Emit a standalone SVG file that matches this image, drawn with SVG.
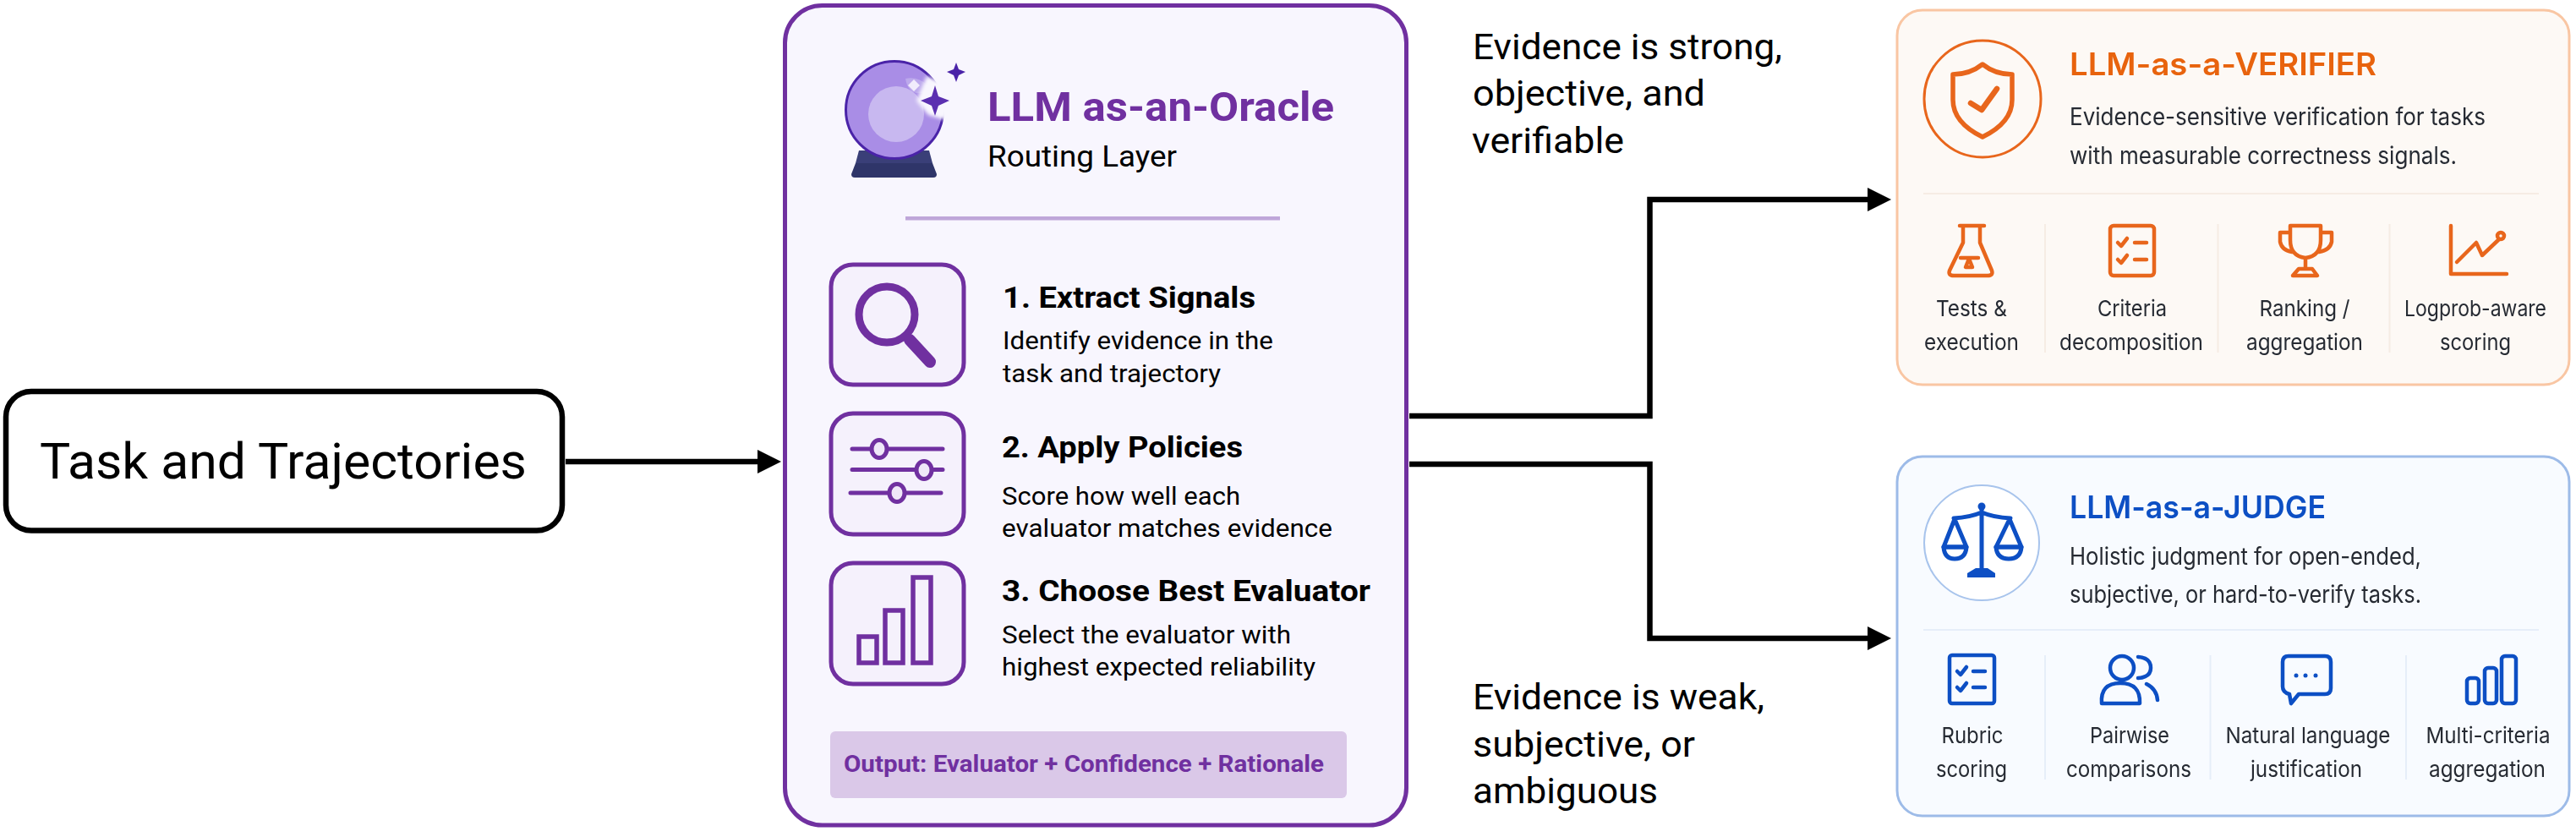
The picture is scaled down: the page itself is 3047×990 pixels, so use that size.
<svg xmlns="http://www.w3.org/2000/svg" width="3047" height="990" viewBox="0 0 3047 990">
<style>
text{font-family:"Inter","Liberation Sans",sans-serif;fill:#000}
.tk,.h1,.sub,.st,.sd,.out,.cond{font-family:"Roboto","Liberation Sans",sans-serif}
.tk{font-size:59px}
.cond{font-size:42px}
.h1{font-size:48px;font-weight:700;fill:#7030a0}
.sub{font-size:35px}
.st{font-size:35px;font-weight:700}
.sd{font-size:30px}
.out{font-size:27px;font-weight:700;fill:#7030a0}
.vt{font-size:37px;font-weight:600;fill:#e8640f}
.jt{font-size:37px;font-weight:600;fill:#0b4fc4}
.pd{font-size:28px;fill:#262b33}
.lb{font-size:26px;fill:#262b33;text-anchor:middle}
.pk{fill:#f5f1fc;stroke:#7030a0;stroke-width:5}
.pi{fill:none;stroke:#7030a0;stroke-linecap:round}
.knob{fill:#efe8f8;stroke:#7030a0;stroke-width:5}
.bar{fill:#f5f1fc;stroke:#7030a0;stroke-width:5.500}
.oi{fill:none;stroke:#e8661c;stroke-width:4.500;stroke-linecap:round;stroke-linejoin:round}
.bi{fill:none;stroke:#0b4fc4;stroke-width:4.500;stroke-linecap:round;stroke-linejoin:round}
.conn{fill:none;stroke:#000;stroke-width:6.500;stroke-linejoin:miter}
.os{stroke:#f6ece4;stroke-width:2}
.bs{stroke:#e6eef9;stroke-width:2}
</style>
<defs>
<marker id="arrow" markerUnits="userSpaceOnUse" markerWidth="30" markerHeight="30" refX="1" refY="14" orient="auto"><polygon points="0,0 28,14 0,28" fill="#000"/></marker>
<filter id="soft" x="-2%" y="-2%" width="104%" height="104%"><feGaussianBlur stdDeviation="0.600"/></filter>
<filter id="halo" x="-30%" y="-30%" width="160%" height="160%"><feGaussianBlur stdDeviation="2"/></filter>
</defs>

<g id="connectors">
<path class="conn" d="M669 546H897" marker-end="url(#arrow)"/>
<path class="conn" d="M1667 492H1951.500V236H2210" marker-end="url(#arrow)"/>
<path class="conn" d="M1667 549H1951.500V755H2210" marker-end="url(#arrow)"/>
</g>

<g id="node-task">
<rect x="7" y="463" width="658" height="164.500" rx="30" fill="#fff" stroke="#000" stroke-width="6.500"/>
<text class="tk" x="47" y="566" textLength="576" lengthAdjust="spacingAndGlyphs">Task and Trajectories</text>
</g>

<g id="node-oracle">
<rect x="928.500" y="6.500" width="735" height="969.500" rx="44" fill="#f8f6fe" stroke="#7030a0" stroke-width="5"/>
<g id="oracle-crystal-ball">
<path d="M1016 178H1099L1103 193H1012Z" fill="#3a3f78"/>
<path d="M1012 193H1103L1108 206Q1108 210 1104 210H1011Q1007 210 1007 206Z" fill="#2f3569"/>
<circle cx="1058" cy="130" r="57.500" fill="#a98de6" stroke="#4a23a8" stroke-width="3"/>
<circle cx="1060" cy="135" r="33" fill="#c8b8f0"/>
<path d="M1071 93Q1085 90 1096 100Q1104 110 1090 110Q1074 112 1071 93Z" fill="#bca9ec"/>
<path d="M1081 94L1088 101L1081 108L1074 101Z" fill="#f1ecfc"/>
<polygon points="1096,90 1114,97 1127,119 1118,142 1098,136 1084,119" fill="#f8f6fe" filter="url(#halo)"/>
<polygon points="1106,101 1110,114 1123,119 1110,125 1106,137 1102,125 1089,119 1102,114" fill="#5b2fb0"/>
<polygon points="1131,74 1134,82 1142,85 1134,89 1131,97 1128,89 1120,85 1128,82" fill="#4a23a8"/>
</g>
<text class="h1" x="1168" y="143" textLength="410" lengthAdjust="spacingAndGlyphs">LLM as-an-Oracle</text>
<text class="sub" x="1168" y="197" textLength="224" lengthAdjust="spacingAndGlyphs">Routing Layer</text>
<rect x="1071" y="256" width="443" height="4.500" fill="#bfa6d9"/>

<rect class="pk" x="983" y="313" width="157" height="142" rx="26"/>
<circle class="pi" cx="1049" cy="372" r="33" stroke-width="9"/>
<path class="pi" d="M1076 402L1100 428" stroke-width="14"/>
<text class="st" x="1186" y="364" textLength="299" lengthAdjust="spacingAndGlyphs">1. Extract Signals</text>
<text class="sd" x="1186" y="413" textLength="320" lengthAdjust="spacingAndGlyphs">Identify evidence in the</text>
<text class="sd" x="1186" y="452" textLength="258" lengthAdjust="spacingAndGlyphs">task and trajectory</text>

<rect class="pk" x="983" y="489" width="157" height="143" rx="26"/>
<path class="pi" d="M1008 531H1115M1008 555.500H1115M1006 583H1113" stroke-width="5" stroke-linecap="butt"/>
<ellipse class="knob" cx="1040" cy="531" rx="9" ry="10.500"/>
<ellipse class="knob" cx="1093" cy="556" rx="9" ry="10.500"/>
<ellipse class="knob" cx="1061" cy="583" rx="9" ry="10.500"/>
<text class="st" x="1185" y="541" textLength="285" lengthAdjust="spacingAndGlyphs">2. Apply Policies</text>
<text class="sd" x="1185" y="597" textLength="282" lengthAdjust="spacingAndGlyphs">Score how well each</text>
<text class="sd" x="1185" y="635" textLength="391" lengthAdjust="spacingAndGlyphs">evaluator matches evidence</text>

<rect class="pk" x="983" y="666" width="157" height="143" rx="26"/>
<rect class="bar" x="1016" y="753" width="21" height="31"/>
<rect class="bar" x="1047" y="722" width="21" height="62"/>
<rect class="bar" x="1080" y="683" width="21" height="101"/>
<text class="st" x="1185" y="711" textLength="436" lengthAdjust="spacingAndGlyphs">3. Choose Best Evaluator</text>
<text class="sd" x="1185" y="761" textLength="342" lengthAdjust="spacingAndGlyphs">Select the evaluator with</text>
<text class="sd" x="1185" y="799" textLength="371" lengthAdjust="spacingAndGlyphs">highest expected reliability</text>

<rect x="982" y="865" width="611" height="79" rx="6" fill="#dac8e8"/>
<text class="out" x="998" y="913" textLength="568" lengthAdjust="spacingAndGlyphs">Output: Evaluator + Confidence + Rationale</text>
</g>

<g id="label-strong">
<text class="cond" x="1742" y="70" textLength="366" lengthAdjust="spacingAndGlyphs">Evidence is strong,</text>
<text class="cond" x="1742" y="125" textLength="275" lengthAdjust="spacingAndGlyphs">objective, and</text>
<text class="cond" x="1741" y="181" textLength="180" lengthAdjust="spacingAndGlyphs">verifiable</text>
</g>
<g id="label-weak">
<text class="cond" x="1742" y="839" textLength="345" lengthAdjust="spacingAndGlyphs">Evidence is weak,</text>
<text class="cond" x="1742" y="895" textLength="263" lengthAdjust="spacingAndGlyphs">subjective, or</text>
<text class="cond" x="1742" y="950" textLength="219" lengthAdjust="spacingAndGlyphs">ambiguous</text>
</g>

<g id="node-verifier" filter="url(#soft)">
<rect x="2244" y="12" width="795" height="443" rx="30" fill="#fdf9f5" stroke="#f9c6a3" stroke-width="3"/>
<circle cx="2345" cy="117" r="69" fill="none" stroke="#e8661c" stroke-width="3"/>
<path class="oi" d="M2345 76Q2330 88 2310 88V118Q2310 145 2345 162Q2380 145 2380 118V88Q2360 88 2345 76Z" style="stroke-width:5.500"/>
<path class="oi" d="M2331 122L2344 130L2362 105" style="stroke-width:6.500"/>
<text class="vt" x="2448" y="89" textLength="363" lengthAdjust="spacingAndGlyphs">LLM-as-a-VERIFIER</text>
<text class="pd" x="2448" y="148" textLength="492" lengthAdjust="spacingAndGlyphs">Evidence-sensitive verification for tasks</text>
<text class="pd" x="2448" y="194" textLength="458" lengthAdjust="spacingAndGlyphs">with measurable correctness signals.</text>
<path class="os" d="M2275 229H3003M2419 265V417M2623.500 265V417M2826.500 265V417"/>
<path class="oi" d="M2318 267H2347M2322 267V287L2306 320Q2304 326 2311 326H2351Q2358 326 2356 320L2342 287V267M2319 305H2340M2329 306L2325 316H2333Z"/>
<text class="lb" x="2332" y="374" textLength="84" lengthAdjust="spacingAndGlyphs">Tests &amp;</text>
<text class="lb" x="2332" y="414" textLength="112" lengthAdjust="spacingAndGlyphs">execution</text>
<rect class="oi" x="2496" y="267" width="52" height="59" rx="4"/>
<path class="oi" d="M2505 287L2509 291L2516 282M2525 287H2539M2505 307L2509 311L2516 302M2525 307H2539"/>
<text class="lb" x="2522" y="374" textLength="82" lengthAdjust="spacingAndGlyphs">Criteria</text>
<text class="lb" x="2521" y="414" textLength="170" lengthAdjust="spacingAndGlyphs">decomposition</text>
<path class="oi" d="M2709 267H2745V284Q2745 303 2727 305Q2709 303 2709 284ZM2709 275H2697V286Q2699 296 2711 298M2745 275H2758V286Q2756 296 2743 298M2727 305V318M2719 318H2735L2741 326H2712Z"/>
<text class="lb" x="2726" y="374" textLength="107" lengthAdjust="spacingAndGlyphs">Ranking /</text>
<text class="lb" x="2726" y="414" textLength="138" lengthAdjust="spacingAndGlyphs">aggregation</text>
<path class="oi" d="M2899 267V324H2965M2906 310L2929 287L2936 302L2956 283"/>
<circle class="oi" cx="2958" cy="279" r="4"/>
<text class="lb" x="2928" y="374" textLength="168" lengthAdjust="spacingAndGlyphs">Logprob-aware</text>
<text class="lb" x="2928" y="414" textLength="84" lengthAdjust="spacingAndGlyphs">scoring</text>
</g>

<g id="node-judge" filter="url(#soft)">
<rect x="2244" y="540" width="795" height="425" rx="30" fill="#f8fbff" stroke="#9dbbe8" stroke-width="3"/>
<circle cx="2344" cy="642" r="68" fill="#fff" stroke="#a8c4ec" stroke-width="2"/>
<path class="bi" d="M2344 600V678M2311 613Q2330 612 2344 606Q2358 612 2378 613M2312 614L2299 647H2326ZM2377 614L2361 647H2391Z" style="stroke-width:5"/>
<path class="bi" d="M2299 647H2326Q2325 661 2312 661Q2300 661 2299 647ZM2361 647H2391Q2390 661 2376 661Q2362 661 2361 647Z" style="stroke-width:5"/>
<circle cx="2344" cy="599" r="4.500" fill="#0b4fc4"/>
<path d="M2337 672H2351L2360 678V683H2327V678Z" fill="#0b4fc4"/>
<text class="jt" x="2448" y="613" textLength="303" lengthAdjust="spacingAndGlyphs">LLM-as-a-JUDGE</text>
<text class="pd" x="2448" y="668" textLength="416" lengthAdjust="spacingAndGlyphs">Holistic judgment for open-ended,</text>
<text class="pd" x="2448" y="713" textLength="416" lengthAdjust="spacingAndGlyphs">subjective, or hard-to-verify tasks.</text>
<path class="bs" d="M2275 745H3003M2419 775V922M2614.500 775V922M2846 775V922"/>
<rect class="bi" x="2306" y="775" width="53" height="57" rx="3"/>
<path class="bi" d="M2315 794L2319 798L2326 789M2334 794H2348M2315 813L2319 817L2326 808M2334 813H2348"/>
<text class="lb" x="2333" y="879" textLength="73" lengthAdjust="spacingAndGlyphs">Rubric</text>
<text class="lb" x="2332" y="919" textLength="84" lengthAdjust="spacingAndGlyphs">scoring</text>
<ellipse class="bi" cx="2510" cy="790" rx="14" ry="14"/>
<path class="bi" d="M2486 832Q2484 808 2508 808Q2532 808 2531 832Z"/>
<path class="bi" d="M2529 777Q2544 778 2544 790Q2544 801 2529 802M2539 809Q2551 815 2552 828"/>
<text class="lb" x="2519" y="879" textLength="94" lengthAdjust="spacingAndGlyphs">Pairwise</text>
<text class="lb" x="2518" y="919" textLength="148" lengthAdjust="spacingAndGlyphs">comparisons</text>
<path class="bi" d="M2707 776H2750Q2757 776 2757 783V814Q2757 821 2750 821H2719L2710 832L2708 821Q2700 819 2700 812V783Q2700 776 2707 776Z"/>
<circle cx="2716" cy="799" r="2.500" fill="#0b4fc4"/><circle cx="2727" cy="799" r="2.500" fill="#0b4fc4"/><circle cx="2739" cy="799" r="2.500" fill="#0b4fc4"/>
<text class="lb" x="2730" y="879" textLength="195" lengthAdjust="spacingAndGlyphs">Natural language</text>
<text class="lb" x="2728" y="919" textLength="132" lengthAdjust="spacingAndGlyphs">justification</text>
<rect class="bi" x="2918" y="802" width="14" height="30" rx="4"/>
<rect class="bi" x="2939" y="790" width="14" height="42" rx="4"/>
<rect class="bi" x="2959" y="776" width="17" height="56" rx="4"/>
<text class="lb" x="2943" y="879" textLength="147" lengthAdjust="spacingAndGlyphs">Multi-criteria</text>
<text class="lb" x="2942" y="919" textLength="138" lengthAdjust="spacingAndGlyphs">aggregation</text>
</g>
</svg>
